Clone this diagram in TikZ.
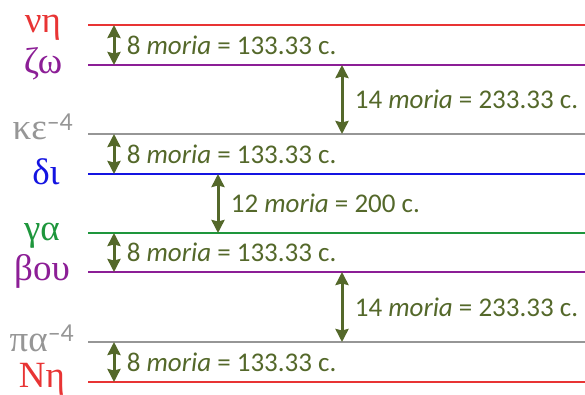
\documentclass[tikz,border=0pt]{standalone}
\usepackage{fontspec}
\setmainfont{Carlito}
\newfontfamily\greekfont{Liberation Serif}
\usetikzlibrary{arrows.meta}
\definecolor{moriagreen}{RGB}{84,104,42}
\definecolor{nhred}{RGB}{232,52,52}
\definecolor{zopurple}{RGB}{140,30,150}
\definecolor{kegray}{RGB}{150,150,150}
\definecolor{diblue}{RGB}{20,20,225}
\definecolor{gagreen}{RGB}{30,150,60}
\newcommand{\minusfour}{\textsuperscript{\normalfont–4}}
\tikzset{
  level/.style={line width=1.6pt},
  levelname/.style={anchor=base, inner sep=0pt, font=\greekfont\fontsize{37}{37}\selectfont},
  gap/.style={{Stealth[width=13pt,length=13pt,inset=1.5pt]}-{Stealth[width=13pt,length=13pt,inset=1.5pt]},
    line width=3pt, moriagreen},
  gaptext/.style={right=8pt, moriagreen, font=\fontsize{27}{27}\selectfont}
}
\begin{document}
\begin{tikzpicture}[x=1pt,y=-1pt]
    \useasboundingbox (0,0) rectangle (585,395);
    % the tone levels
    \coordinate (nh) at (88,25);
    \coordinate (zo) at (88,65);
    \coordinate (ke) at (88,134);
    \coordinate (di) at (88,174);
    \coordinate (ga) at (88,233);
    \coordinate (bou) at (88,272);
    \coordinate (pa) at (88,342);
    \coordinate (Nh) at (88,382);
    \coordinate (end) at (585,0);
    \draw[level,nhred] (nh) -- (nh -| end);
    \draw[level,zopurple] (zo) -- (zo -| end);
    \draw[level,kegray] (ke) -- (ke -| end);
    \draw[level,diblue] (di) -- (di -| end);
    \draw[level,gagreen] (ga) -- (ga -| end);
    \draw[level,zopurple] (bou) -- (bou -| end);
    \draw[level,kegray] (pa) -- (pa -| end);
    \draw[level,nhred] (Nh) -- (Nh -| end);
    % names of the levels
    \node[levelname,nhred] (nhname) at (43,33) {νη};
    \node[levelname,zopurple] (zoname) at (43,74) {ζω};
    \node[levelname,kegray] (kename) at (43,140) {κε\minusfour};
    \node[levelname,diblue] (diname) at (46,185) {δι};
    \node[levelname,gagreen] (ganame) at (42,240) {γα};
    \node[levelname,zopurple] (bouname) at (42,280) {βου};
    \node[levelname,kegray] (paname) at (42,351) {πα\minusfour};
    \node[levelname,nhred] (Nhname) at (42,387) {Νη};
    % the intervals
    \coordinate (short) at (114,0);
    \coordinate (mid) at (218,0);
    \coordinate (long) at (342,0);
    \draw[gap] (nh -| short) -- node[gaptext] (nhzo) {8 \textit{moria} = 133.33 c.} (zo -| short);
    \draw[gap] (zo -| long) -- node[gaptext] (zoke) {14 \textit{moria} = 233.33 c.} (ke -| long);
    \draw[gap] (ke -| short) -- node[gaptext] (kedi) {8 \textit{moria} = 133.33 c.} (di -| short);
    \draw[gap] (di -| mid) -- node[gaptext] (diga) {12 \textit{moria} = 200 c.} (ga -| mid);
    \draw[gap] (ga -| short) -- node[gaptext] (gabou) {8 \textit{moria} = 133.33 c.} (bou -| short);
    \draw[gap] (bou -| long) -- node[gaptext] (boupa) {14 \textit{moria} = 233.33 c.} (pa -| long);
    \draw[gap] (pa -| short) -- node[gaptext] (paNh) {8 \textit{moria} = 133.33 c.} (Nh -| short);
\end{tikzpicture}
\end{document}
